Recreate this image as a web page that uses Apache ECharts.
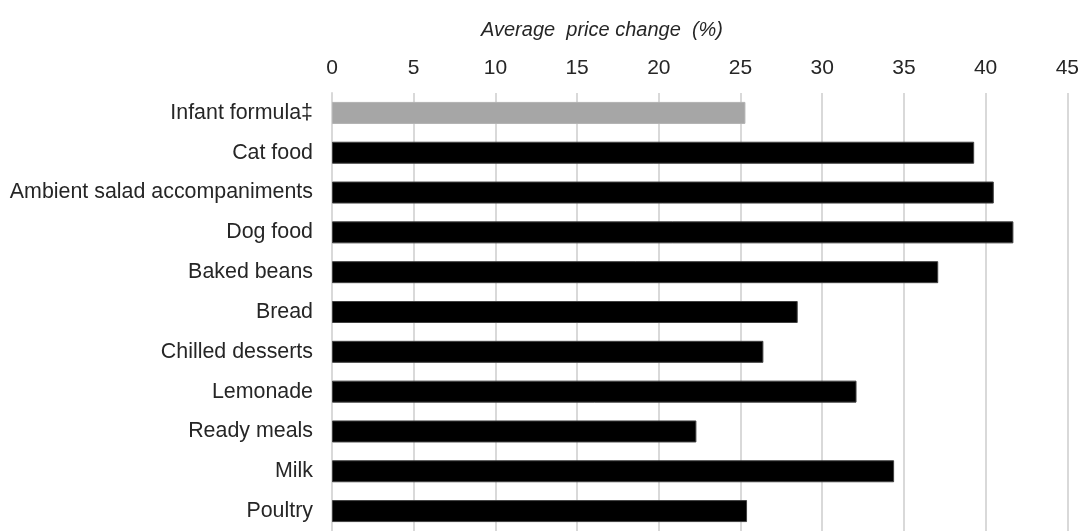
<!DOCTYPE html>
<html>
<head>
<meta charset="utf-8">
<script src="https://cdn.jsdelivr.net/npm/echarts@6/dist/echarts.min.js"></script>
<style>
  html, body { margin: 0; padding: 0; background: #fff; }
  #PriceChart { width: 1082px; height: 531px; }
</style>
</head>
<body>
<div id="PriceChart"></div>
<script>
// categories top to bottom
const categories = [
  'Infant formula\u2021', 'Cat food', 'Ambient salad accompaniments', 'Dog food',
  'Baked beans', 'Bread', 'Chilled desserts', 'Lemonade', 'Ready meals', 'Milk', 'Poultry'
];
const priceChange = [25.3, 39.3, 40.5, 41.7, 37.1, 28.5, 26.4, 32.1, 22.3, 34.4, 25.4];
const greyCategories = ['Infant formula\u2021'];
const xTicks = [0, 45, 5]; // min, max, interval

const chart = echarts.init(document.getElementById('PriceChart'));

let data = [];
categories.forEach((c, i) => {
  let grey = greyCategories.indexOf(c) >= 0;
  data.push({
    value: priceChange[i],
    itemStyle: {
      color: grey ? '#a6a6a6' : '#000000',
      borderColor: grey ? '#b3b3b3' : '#404040',
      borderWidth: 1
    }
  });
});

let option = {
  animation: false,
  title: {
    text: 'Average  price change  (%)',
    left: 597,
    top: 15,
    textAlign: 'center',
    textStyle: {
      fontFamily: 'Liberation Sans',
      fontStyle: 'italic',
      fontWeight: 'normal',
      fontSize: 20,
      color: '#262626'
    }
  },
  grid: {
    left: 332,
    right: 13,
    top: 93,
    height: 445
  },
  xAxis: {
    type: 'value',
    position: 'top',
    min: xTicks[0],
    max: xTicks[1],
    interval: xTicks[2],
    axisLine: { show: false },
    axisTick: { show: false },
    axisLabel: {
      margin: 14,
      fontFamily: 'Liberation Sans',
      fontSize: 21,
      color: '#262626'
    },
    splitLine: {
      show: true,
      lineStyle: { color: '#d9d9d9', width: 2 }
    }
  },
  yAxis: {
    type: 'category',
    inverse: true,
    data: categories,
    axisLine: { show: true, lineStyle: { color: '#d9d9d9', width: 2 } },
    axisTick: { show: false },
    axisLabel: {
      margin: 19,
      fontFamily: 'Liberation Sans',
      fontSize: 21.4,
      color: '#262626'
    }
  },
  series: [
    {
      type: 'bar',
      barWidth: 22,
      data: data
    }
  ]
};

chart.setOption(option);
</script>
</body>
</html>
